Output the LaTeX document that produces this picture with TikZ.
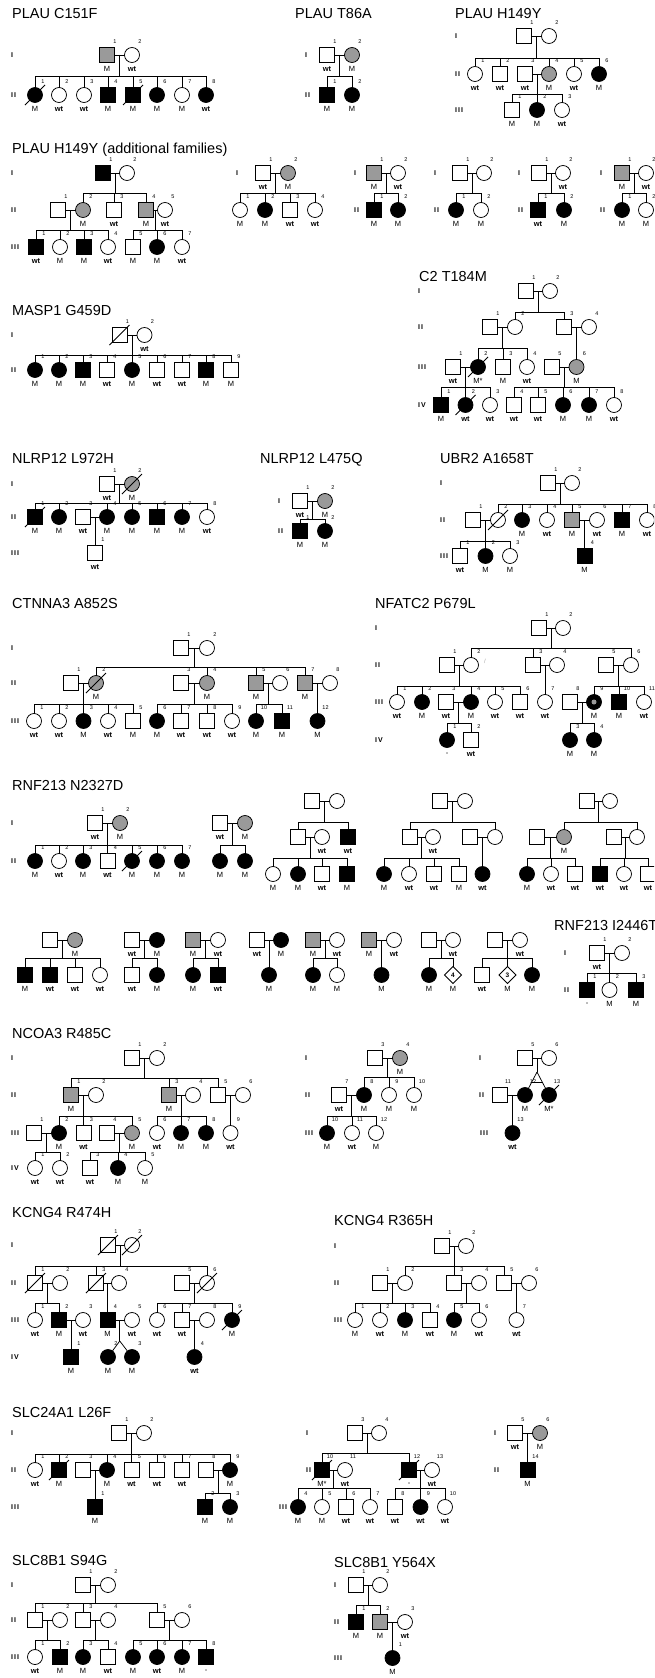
\documentclass[tikz,border=0pt]{standalone}
\usepackage{fontspec}
\setmainfont{Liberation Sans}
\usetikzlibrary{calc,shapes.geometric}
\definecolor{cgray}{HTML}{9A9A9A}
\tikzset{
 ln/.style={line width=0.75pt, draw=black},
 sym/.style={draw=black, line width=0.75pt, inner sep=0pt, outer sep=0pt},
 sq/.style={rectangle, minimum size=15pt},
 ci/.style={circle, minimum size=15pt},
 dm/.style={diamond, minimum size=17pt, font=\fontsize{6.5}{7}\selectfont\bfseries},
 pU/.style={fill=white}, pA/.style={fill=black}, pC/.style={fill=cgray},
 num/.style={font=\fontsize{5.5}{6}\selectfont, inner sep=0pt},
 gt/.style={font=\fontsize{7.5}{8}\selectfont, inner sep=0pt},
 gen/.style={font=\fontsize{7}{8}\selectfont\bfseries\addfontfeatures{LetterSpace=14}, inner sep=0pt, anchor=west},
 ttl/.style={font=\fontsize{14.5}{16}\selectfont, inner sep=0pt, anchor=base west},
}
\newcommand{\WT}{\textbf{wt}}
\newcommand{\Nm}[3]{\if\relax\detokenize{#3}\relax\else\node[num] at (#1+8,#2-13) {#3};\fi}
\newcommand{\Gt}[3]{\if\relax\detokenize{#3}\relax\else\node[gt] at (#1,#2+14) {#3};\fi}
\newcommand{\Sq}[6]{\node[sym,sq,#4] (#1) at (#2,#3) {};\Nm{#2}{#3}{#5}\Gt{#2}{#3}{#6}}
\newcommand{\Ci}[6]{\node[sym,ci,#4] (#1) at (#2,#3) {};\Nm{#2}{#3}{#5}\Gt{#2}{#3}{#6}}
\newcommand{\Dm}[5]{\node[sym,dm,pU] (#1) at (#2,#3) {#4};\Gt{#2}{#3}{#5}}
\newcommand{\mar}[2]{\draw[ln] (#1) -- (#2); \coordinate (m#1) at ($(#1)!0.5!(#2)$);}
\newcommand{\sibs}[5]{%
  \coordinate (sibY) at (0,#2);
  \draw[ln] (#1) -- (#1 |- sibY);
  \draw[ln] (#3 |- sibY) -- (#4 |- sibY);
  \foreach \ch in {#5} {\draw[ln] (\ch) -- (\ch |- sibY);}}
\newcommand{\dec}[1]{\draw[ln] ($(#1)+(-10,10)$) -- ($(#1)+(10,-10)$);}
\newcommand{\gl}[3]{\node[gen] at (#1,#2) {#3};}
\begin{document}
\begin{tikzpicture}[x=1pt,y=-1pt]
\useasboundingbox (0,0) rectangle (654,1678);
\fill[white] (0,0) rectangle (654,1678);
\clip (0,0) rectangle (654,1678);

% ================= PLAU C151F
\node[ttl] at (12,19) {PLAU C151F};
\gl{11}{55}{I}\gl{11}{95}{II}
\Sq{a1}{107}{55}{pC}{1}{M}
\Ci{a2}{132}{55}{pU}{2}{\WT}
\mar{a1}{a2}
\Ci{a21}{35}{95}{pA}{1}{M}
\Ci{a22}{59}{95}{pU}{2}{\WT}
\Ci{a23}{84}{95}{pU}{3}{\WT}
\Sq{a24}{108}{95}{pA}{4}{M}
\Sq{a25}{133}{95}{pA}{5}{M}
\Ci{a26}{157}{95}{pA}{6}{M}
\Ci{a27}{182}{95}{pU}{7}{M}
\Ci{a28}{206}{95}{pA}{8}{\WT}
\sibs{ma1}{76}{a21}{a28}{a21,a22,a23,a24,a25,a26,a27,a28}
\dec{a21}\dec{a25}

% ================= PLAU T86A
\node[ttl] at (295,19) {PLAU T86A};
\gl{305}{55}{I}\gl{305}{95}{II}
\Sq{b1}{327}{55}{pU}{1}{\WT}
\Ci{b2}{352}{55}{pC}{2}{M}
\mar{b1}{b2}
\Sq{b21}{327}{95}{pA}{1}{M}
\Ci{b22}{352}{95}{pA}{2}{M}
\sibs{mb1}{76}{b21}{b22}{b21,b22}

% ================= PLAU H149Y
\node[ttl] at (455,19) {PLAU H149Y};
\gl{455}{36}{I}\gl{455}{74}{II}\gl{455}{110}{III}
\Sq{c1}{524}{36}{pU}{1}{}
\Ci{c2}{549}{36}{pU}{2}{}
\mar{c1}{c2}
\Ci{c21}{475}{74}{pU}{1}{\WT}
\Sq{c22}{500}{74}{pU}{2}{\WT}
\Sq{c23}{525}{74}{pU}{3}{\WT}
\Ci{c24}{549}{74}{pC}{4}{M}
\Ci{c25}{574}{74}{pU}{5}{\WT}
\Ci{c26}{599}{74}{pA}{6}{M}
\sibs{mc1}{58}{c21}{c26}{c21,c22,c24,c25,c26}
\mar{c23}{c24}
\Sq{c31}{512}{110}{pU}{1}{M}
\Ci{c32}{537}{110}{pA}{2}{M}
\Ci{c33}{562}{110}{pU}{3}{\WT}
\sibs{mc23}{94}{c31}{c33}{c31,c32,c33}

% ================= PLAU H149Y additional
\node[ttl] at (12,153) {PLAU H149Y (additional families)};
\gl{11}{173}{I}\gl{11}{210}{II}\gl{11}{247}{III}
\Sq{d1}{103}{173}{pA}{1}{}
\Ci{d2}{127}{173}{pU}{2}{}
\mar{d1}{d2}
\Sq{d21}{58}{210}{pU}{1}{}
\Ci{d22}{83}{210}{pC}{2}{M}
\Sq{d23}{114}{210}{pU}{3}{\WT}
\Sq{d24}{146}{210}{pC}{4}{M}
\Ci{d25}{165}{210}{pU}{5}{\WT}
\sibs{md1}{193}{d22}{d24}{d22,d23,d24}
\mar{d21}{d22}
\Sq{d31}{36}{247}{pA}{1}{\WT}
\Ci{d32}{60}{247}{pU}{2}{M}
\Sq{d33}{84}{247}{pA}{3}{M}
\Ci{d34}{108}{247}{pU}{4}{\WT}
\sibs{md21}{230}{d31}{d34}{d31,d32,d33,d34}
\mar{d24}{d25}
\Sq{d35}{133}{247}{pU}{5}{M}
\Ci{d36}{157}{247}{pA}{6}{M}
\Ci{d37}{182}{247}{pU}{7}{\WT}
\sibs{md24}{230}{d35}{d37}{d35,d36,d37}

\gl{236}{173}{I}\gl{236}{210}{II}
\Sq{e1}{263}{173}{pU}{1}{\WT}
\Ci{e2}{288}{173}{pC}{2}{M}
\mar{e1}{e2}
\Ci{e21}{240}{210}{pU}{1}{M}
\Ci{e22}{265}{210}{pA}{2}{M}
\Sq{e23}{290}{210}{pU}{3}{\WT}
\Ci{e24}{315}{210}{pU}{4}{\WT}
\sibs{me1}{193}{e21}{e24}{e21,e22,e23,e24}

\gl{354}{173}{I}\gl{354}{210}{II}
\Sq{f1}{374}{173}{pC}{1}{M}
\Ci{f2}{398}{173}{pU}{2}{\WT}
\mar{f1}{f2}
\Sq{f21}{374}{210}{pA}{1}{M}
\Ci{f22}{398}{210}{pA}{2}{M}
\sibs{mf1}{193}{f21}{f22}{f21,f22}

\gl{434}{173}{I}\gl{434}{210}{II}
\Sq{g1}{460}{173}{pU}{1}{}
\Ci{g2}{484}{173}{pU}{2}{}
\mar{g1}{g2}
\Ci{g21}{456}{210}{pA}{1}{M}
\Ci{g22}{481}{210}{pU}{2}{M}
\sibs{mg1}{193}{g21}{g22}{g21,g22}

\gl{518}{173}{I}\gl{518}{210}{II}
\Sq{h1}{539}{173}{pU}{1}{}
\Ci{h2}{563}{173}{pU}{2}{\WT}
\mar{h1}{h2}
\Sq{h21}{538}{210}{pA}{1}{\WT}
\Ci{h22}{564}{210}{pA}{2}{M}
\sibs{mh1}{193}{h21}{h22}{h21,h22}

\gl{600}{173}{I}\gl{600}{210}{II}
\Sq{i1}{622}{173}{pC}{1}{M}
\Ci{i2}{646}{173}{pU}{2}{\WT}
\mar{i1}{i2}
\Ci{i21}{622}{210}{pA}{1}{M}
\Ci{i22}{646}{210}{pU}{2}{M}
\sibs{mi1}{193}{i21}{i22}{i21,i22}

% ================= C2 T184M
\node[ttl] at (419,281) {C2 T184M};
\gl{418}{291}{I}\gl{418}{327}{II}\gl{418}{367}{III}\gl{418}{405}{IV}
\Sq{j1}{526}{291}{pU}{1}{}
\Ci{j2}{550}{291}{pU}{2}{}
\mar{j1}{j2}
\Sq{j21}{490}{327}{pU}{1}{}
\Ci{j22}{515}{327}{pU}{2}{}
\Sq{j23}{564}{327}{pU}{3}{}
\Ci{j24}{589}{327}{pU}{4}{}
\sibs{mj1}{312}{j22}{j23}{j22,j23}
\mar{j21}{j22}
\Sq{j31}{453}{367}{pU}{1}{\WT}
\Ci{j32}{478}{367}{pA}{2}{M*}
\Sq{j33}{503}{367}{pU}{3}{M}
\Ci{j34}{527}{367}{pU}{4}{\WT}
\sibs{mj21}{348}{j32}{j34}{j32,j33,j34}
\mar{j23}{j24}
\Sq{j35}{552}{367}{pU}{5}{}
\Ci{j36}{576.5}{367}{pC}{6}{M}
\draw[ln] (mj23) -- (j36);
\mar{j31}{j32}
\Sq{j41}{441}{405}{pA}{1}{M}
\Ci{j42}{465.5}{405}{pA}{2}{\WT}
\Ci{j43}{490}{405}{pU}{3}{\WT}
\sibs{mj31}{387}{j41}{j43}{j41,j42,j43}
\mar{j35}{j36}
\Sq{j44}{514}{405}{pU}{4}{\WT}
\Sq{j45}{538}{405}{pU}{5}{\WT}
\Ci{j46}{563}{405}{pA}{6}{M}
\Ci{j47}{589}{405}{pA}{7}{M}
\Ci{j48}{614}{405}{pU}{8}{\WT}
\sibs{mj35}{387}{j44}{j48}{j44,j45,j46,j47,j48}
\dec{j32}\dec{j42}

% ================= MASP1 G459D
\node[ttl] at (12,315) {MASP1 G459D};
\gl{11}{335}{I}\gl{11}{370}{II}
\Sq{k1}{119.5}{335}{pU}{1}{}
\Ci{k2}{144.5}{335}{pU}{2}{\WT}
\mar{k1}{k2}
\dec{k1}
\Ci{k21}{35}{370}{pA}{1}{M}
\Ci{k22}{59}{370}{pA}{2}{M}
\Sq{k23}{83}{370}{pA}{3}{M}
\Sq{k24}{107}{370}{pU}{4}{\WT}
\Ci{k25}{132}{370}{pA}{5}{M}
\Sq{k26}{157}{370}{pU}{6}{\WT}
\Sq{k27}{182}{370}{pU}{7}{\WT}
\Sq{k28}{206}{370}{pA}{8}{M}
\Sq{k29}{231}{370}{pU}{9}{M}
\sibs{mk1}{355}{k21}{k29}{k21,k22,k23,k24,k25,k26,k27,k28,k29}

% ================= NLRP12 L972H
\node[ttl] at (12,463) {NLRP12 L972H};
\gl{11}{484}{I}\gl{11}{517}{II}\gl{11}{553}{III}
\Sq{l1}{107}{484}{pU}{1}{\WT}
\Ci{l2}{132}{484}{pC}{2}{M}
\mar{l1}{l2}
\dec{l2}
\Sq{l21}{35}{517}{pA}{1}{M}
\Ci{l22}{59}{517}{pA}{2}{M}
\Sq{l23}{83}{517}{pU}{3}{\WT}
\Ci{l24}{107}{517}{pA}{4}{M}
\Ci{l25}{132}{517}{pA}{5}{M}
\Sq{l26}{157}{517}{pA}{6}{M}
\Ci{l27}{182}{517}{pA}{7}{M}
\Ci{l28}{207}{517}{pU}{8}{\WT}
\sibs{ml1}{503}{l21}{l28}{l21,l22,l24,l25,l26,l27,l28}
\dec{l21}
\mar{l23}{l24}
\Sq{l31}{95}{553}{pU}{1}{\WT}
\draw[ln] (ml23) -- (l31);

% ================= NLRP12 L475Q
\node[ttl] at (260,463) {NLRP12 L475Q};
\gl{278}{501}{I}\gl{278}{531}{II}
\Sq{m1}{300}{501}{pU}{1}{\WT}
\Ci{m2}{325}{501}{pC}{2}{M}
\mar{m1}{m2}
\Sq{m21}{300}{531}{pA}{1}{M}
\Ci{m22}{325}{531}{pA}{2}{M}
\sibs{mm1}{519}{m21}{m22}{m21,m22}

% ================= UBR2 A1658T
\node[ttl] at (440,463) {UBR2 A1658T};
\gl{440}{483}{I}\gl{440}{520}{II}\gl{440}{556}{III}
\Sq{n1}{548}{483}{pU}{1}{}
\Ci{n2}{572}{483}{pU}{2}{}
\mar{n1}{n2}
\Sq{n21}{473}{520}{pU}{1}{}
\Ci{n22}{498}{520}{pU}{2}{}
\Ci{n23}{522}{520}{pA}{3}{M}
\Ci{n24}{547}{520}{pU}{4}{\WT}
\Sq{n25}{572}{520}{pC}{5}{M}
\Ci{n26}{597}{520}{pU}{6}{\WT}
\Sq{n27}{622}{520}{pA}{7}{M}
\Ci{n28}{647}{520}{pU}{8}{\WT}
\sibs{mn1}{504}{n22}{n28}{n22,n23,n24,n25,n27,n28}
\dec{n22}
\mar{n21}{n22}
\Sq{n31}{460}{556}{pU}{1}{\WT}
\Ci{n32}{485.5}{556}{pA}{2}{M}
\Ci{n33}{510}{556}{pU}{3}{M}
\sibs{mn21}{541}{n31}{n33}{n31,n32,n33}
\mar{n25}{n26}
\Sq{n34}{584.5}{556}{pA}{4}{M}
\draw[ln] (mn25) -- (n34);

% ================= CTNNA3 A852S
\node[ttl] at (12,608) {CTNNA3 A852S};
\gl{11}{648}{I}\gl{11}{683}{II}\gl{11}{721}{III}
\Sq{o1}{181}{648}{pU}{1}{}
\Ci{o2}{207}{648}{pU}{2}{}
\mar{o1}{o2}
\Sq{o21}{71}{683}{pU}{1}{}
\Ci{o22}{96}{683}{pC}{2}{M}
\Sq{o23}{181}{683}{pU}{3}{}
\Ci{o24}{207}{683}{pC}{4}{M}
\Sq{o25}{256}{683}{pC}{5}{M}
\Ci{o26}{280}{683}{pU}{6}{}
\Sq{o27}{305}{683}{pC}{7}{M}
\Ci{o28}{330}{683}{pU}{8}{}
\sibs{mo1}{667}{o22}{o27}{o22,o24,o25,o27}
\dec{o22}
\mar{o21}{o22}
\Ci{o31}{34}{721}{pU}{1}{\WT}
\Ci{o32}{59}{721}{pU}{2}{\WT}
\Ci{o33}{83.5}{721}{pA}{3}{M}
\Ci{o34}{108}{721}{pU}{4}{\WT}
\Sq{o35}{133}{721}{pU}{5}{M}
\sibs{mo21}{704}{o31}{o35}{o31,o32,o33,o34,o35}
\mar{o23}{o24}
\Ci{o36}{157}{721}{pA}{6}{M}
\Sq{o37}{181}{721}{pU}{7}{\WT}
\Sq{o38}{207}{721}{pU}{8}{\WT}
\Ci{o39}{232}{721}{pU}{9}{\WT}
\sibs{mo23}{704}{o36}{o39}{o36,o37,o38,o39}
\mar{o25}{o26}
\Ci{o310}{256}{721}{pA}{10}{M}
\Sq{o311}{282}{721}{pA}{11}{M}
\sibs{mo25}{704}{o310}{o311}{o310,o311}
\mar{o27}{o28}
\Ci{o312}{317.5}{721}{pA}{12}{M}
\draw[ln] (mo27) -- (o312);

% ================= NFATC2 P679L
\node[ttl] at (375,608) {NFATC2 P679L};
\gl{375}{628}{I}\gl{375}{665}{II}\gl{375}{702}{III}\gl{375}{740}{IV}
\Sq{p1}{539}{628}{pU}{1}{}
\Ci{p2}{563}{628}{pU}{2}{}
\mar{p1}{p2}
\Sq{p21}{447}{665}{pU}{1}{}
\Ci{p22}{471}{665}{pU}{2}{}
\Sq{p23}{533}{665}{pU}{3}{}
\Ci{p24}{557}{665}{pU}{4}{}
\Sq{p25}{606}{665}{pU}{5}{}
\Ci{p26}{631}{665}{pU}{6}{}
\sibs{mp1}{648}{p22}{p26}{p22,p23,p26}
\node[text=black!35, font=\fontsize{6}{7}\selectfont, inner sep=0pt] at (485,661) {/};
\mar{p21}{p22}
\Ci{p31}{397}{702}{pU}{1}{\WT}
\Ci{p32}{422}{702}{pA}{2}{M}
\Sq{p33}{446}{702}{pU}{3}{\WT}
\Ci{p34}{471}{702}{pA}{4}{M}
\Ci{p35}{495}{702}{pU}{5}{\WT}
\Sq{p36}{520}{702}{pU}{6}{\WT}
\sibs{mp21}{686}{p31}{p36}{p31,p32,p34,p35,p36}
\mar{p23}{p24}
\Ci{p37}{545}{702}{pU}{7}{\WT}
\draw[ln] (mp23) -- (p37);
\Sq{p38}{570}{702}{pU}{8}{}
\Ci{p39}{594}{702}{pA}{9}{M}
\node[circle, fill=cgray, minimum size=5pt, inner sep=0pt] (p39dot) at (p39) {};
\Sq{p310}{619}{702}{pA}{10}{M}
\Ci{p311}{644}{702}{pU}{11}{\WT}
\mar{p25}{p26}
\sibs{mp25}{686}{p39}{p311}{p39,p310,p311}
\mar{p33}{p34}
\Ci{p41}{447}{740}{pA}{1}{-}
\Sq{p42}{471}{740}{pU}{2}{\WT}
\sibs{mp33}{723}{p41}{p42}{p41,p42}
\mar{p38}{p39}
\Ci{p43}{570}{740}{pA}{3}{M}
\Ci{p44}{594}{740}{pA}{4}{M}
\sibs{mp38}{723}{p43}{p44}{p43,p44}

% ================= RNF213 N2327D
\node[ttl] at (12,790) {RNF213 N2327D};
\gl{11}{823}{I}\gl{11}{861}{II}
\Sq{q1}{95}{823}{pU}{1}{\WT}
\Ci{q2}{120}{823}{pC}{2}{M}
\mar{q1}{q2}
\Ci{q21}{35}{861}{pA}{1}{M}
\Ci{q22}{59}{861}{pU}{2}{\WT}
\Ci{q23}{83}{861}{pA}{3}{M}
\Sq{q24}{107.5}{861}{pU}{4}{\WT}
\Ci{q25}{132}{861}{pA}{5}{M}
\Ci{q26}{157}{861}{pA}{6}{M}
\Ci{q27}{182}{861}{pA}{7}{M}
\sibs{mq1}{845}{q21}{q27}{q21,q22,q23,q24,q25,q26,q27}
\dec{q25}

\Sq{r1}{220}{823}{pU}{}{\WT}
\Ci{r2}{245}{823}{pC}{}{M}
\mar{r1}{r2}
\Ci{r21}{220}{861}{pA}{}{M}
\Ci{r22}{245}{861}{pA}{}{M}
\sibs{mr1}{845}{r21}{r22}{r21,r22}

\Sq{s1}{312}{801}{pU}{}{}
\Ci{s2}{337}{801}{pU}{}{}
\mar{s1}{s2}
\Sq{s21}{298}{837}{pU}{}{}
\Ci{s22}{322}{837}{pU}{}{\WT}
\Sq{s23}{348}{837}{pA}{}{\WT}
\sibs{ms1}{822}{s21}{s23}{s21,s23}
\mar{s21}{s22}
\Ci{s31}{273}{874}{pU}{}{M}
\Ci{s32}{298}{874}{pA}{}{M}
\Sq{s33}{322}{874}{pU}{}{\WT}
\Sq{s34}{347}{874}{pA}{}{M}
\sibs{ms21}{858}{s31}{s34}{s31,s32,s33,s34}

\Sq{t1}{440}{801}{pU}{}{}
\Ci{t2}{465}{801}{pU}{}{}
\mar{t1}{t2}
\Sq{t21}{410}{837}{pU}{}{}
\Ci{t22}{433}{837}{pU}{}{\WT}
\Sq{t23}{470}{837}{pU}{}{}
\Ci{t24}{495}{837}{pU}{}{}
\sibs{mt1}{822}{t21}{t24}{t21,t24}
\mar{t21}{t22}
\Ci{t31}{384}{874}{pA}{}{M}
\Ci{t32}{409}{874}{pU}{}{\WT}
\Sq{t33}{434}{874}{pU}{}{\WT}
\Sq{t34}{459}{874}{pU}{}{M}
\sibs{mt21}{858}{t31}{t34}{t31,t32,t33,t34}
\mar{t23}{t24}
\Ci{t35}{482.5}{874}{pA}{}{\WT}
\draw[ln] (mt23) -- (t35);

\Sq{u1}{587}{801}{pU}{}{}
\Ci{u2}{610}{801}{pU}{}{}
\mar{u1}{u2}
\Sq{u21}{537}{837}{pU}{}{}
\Ci{u22}{564}{837}{pC}{}{M}
\Sq{u23}{614}{837}{pU}{}{}
\Ci{u24}{637}{837}{pU}{}{}
\sibs{mu1}{822}{u22}{u24}{u22,u24}
\mar{u21}{u22}
\Ci{u31}{527}{874}{pA}{}{M}
\Ci{u32}{551}{874}{pU}{}{\WT}
\Sq{u33}{575}{874}{pU}{}{\WT}
\sibs{mu21}{858}{u31}{u33}{u31,u32,u33}
\mar{u23}{u24}
\Sq{u34}{600}{874}{pA}{}{\WT}
\Ci{u35}{624}{874}{pU}{}{\WT}
\Sq{u36}{648}{874}{pU}{}{\WT}
\sibs{mu23}{858}{u34}{u36}{u34,u35,u36}

% second row of RNF213 N2327D families
\Sq{v1}{50}{940}{pU}{}{}
\Ci{v2}{75}{940}{pC}{}{M}
\mar{v1}{v2}
\Sq{v21}{25}{975}{pA}{}{M}
\Sq{v22}{50}{975}{pA}{}{\WT}
\Sq{v23}{75}{975}{pU}{}{\WT}
\Ci{v24}{100}{975}{pU}{}{\WT}
\sibs{mv1}{958}{v21}{v24}{v21,v22,v23,v24}

\Sq{w1}{132}{940}{pU}{}{\WT}
\Ci{w2}{157}{940}{pA}{}{M}
\mar{w1}{w2}
\Sq{w21}{132}{975}{pU}{}{\WT}
\Ci{w22}{157}{975}{pA}{}{M}
\sibs{mw1}{958}{w21}{w22}{w21,w22}

\Sq{x1}{193}{940}{pC}{}{M}
\Ci{x2}{218}{940}{pU}{}{\WT}
\mar{x1}{x2}
\Ci{x21}{193}{975}{pA}{}{M}
\Sq{x22}{218}{975}{pA}{}{\WT}
\sibs{mx1}{958}{x21}{x22}{x21,x22}

\Sq{y1}{257}{940}{pU}{}{\WT}
\Ci{y2}{281}{940}{pA}{}{M}
\mar{y1}{y2}
\Ci{y21}{269}{975}{pA}{}{M}
\draw[ln] (my1) -- (y21);

\Sq{z1}{313}{940}{pC}{}{M}
\Ci{z2}{337}{940}{pU}{}{\WT}
\mar{z1}{z2}
\Ci{z21}{313}{975}{pA}{}{M}
\Ci{z22}{337}{975}{pU}{}{M}
\sibs{mz1}{958}{z21}{z22}{z21,z22}

\Sq{aa1}{369}{940}{pC}{}{M}
\Ci{aa2}{394}{940}{pU}{}{\WT}
\mar{aa1}{aa2}
\Ci{aa21}{381.5}{975}{pA}{}{M}
\draw[ln] (maa1) -- (aa21);

\Sq{ab1}{429}{940}{pU}{}{}
\Ci{ab2}{453}{940}{pU}{}{\WT}
\mar{ab1}{ab2}
\Ci{ab21}{429}{975}{pA}{}{M}
\Dm{ab22}{453}{975}{4}{M}
\sibs{mab1}{958}{ab21}{ab22}{ab21,ab22}

\Sq{ac1}{495}{940}{pU}{}{}
\Ci{ac2}{520}{940}{pU}{}{\WT}
\mar{ac1}{ac2}
\Sq{ac21}{482}{975}{pU}{}{\WT}
\Dm{ac22}{507.5}{975}{3}{M}
\Ci{ac23}{532}{975}{pA}{}{M}
\sibs{mac1}{958}{ac21}{ac23}{ac21,ac22,ac23}

% ================= RNF213 I2446T
\node[ttl] at (554,930) {RNF213 I2446T};
\gl{564}{953}{I}\gl{564}{990}{II}
\Sq{ad1}{597}{953}{pU}{1}{\WT}
\Ci{ad2}{622}{953}{pU}{2}{}
\mar{ad1}{ad2}
\Sq{ad21}{587}{990}{pA}{1}{-}
\Ci{ad22}{609.5}{990}{pU}{2}{M}
\Sq{ad23}{636}{990}{pA}{3}{M}
\sibs{mad1}{973}{ad21}{ad23}{ad21,ad22,ad23}

% ================= NCOA3 R485C
\node[ttl] at (12,1038) {NCOA3 R485C};
\gl{11}{1058}{I}\gl{11}{1095}{II}\gl{11}{1133}{III}\gl{11}{1168}{IV}
\Sq{ae1}{132}{1058}{pU}{1}{}
\Ci{ae2}{157}{1058}{pU}{2}{}
\mar{ae1}{ae2}
\Sq{ae21}{71}{1095}{pC}{1}{M}
\Ci{ae22}{96}{1095}{pU}{2}{}
\Sq{ae23}{169}{1095}{pC}{3}{M}
\Ci{ae24}{193}{1095}{pU}{4}{}
\Sq{ae25}{218}{1095}{pU}{5}{}
\Ci{ae26}{243}{1095}{pU}{6}{}
\sibs{mae1}{1078}{ae21}{ae25}{ae21,ae23,ae25}
\mar{ae21}{ae22}
\Sq{ae31}{34}{1133}{pU}{1}{}
\Ci{ae32}{59}{1133}{pA}{2}{M}
\Sq{ae33}{83.5}{1133}{pU}{3}{\WT}
\Sq{ae34}{107}{1133}{pU}{4}{}
\Ci{ae35}{132}{1133}{pC}{5}{M}
\sibs{mae21}{1116}{ae32}{ae35}{ae32,ae33,ae35}
\mar{ae23}{ae24}
\Ci{ae36}{157}{1133}{pU}{6}{\WT}
\Ci{ae37}{181}{1133}{pA}{7}{M}
\Ci{ae38}{206}{1133}{pA}{8}{M}
\sibs{mae23}{1116}{ae36}{ae38}{ae36,ae37,ae38}
\mar{ae25}{ae26}
\Ci{ae39}{230.5}{1133}{pU}{9}{\WT}
\draw[ln] (mae25) -- (ae39);
\mar{ae31}{ae32}
\Ci{ae41}{35}{1168}{pU}{1}{\WT}
\Ci{ae42}{60}{1168}{pU}{2}{\WT}
\sibs{mae31}{1152}{ae41}{ae42}{ae41,ae42}
\mar{ae34}{ae35}
\Sq{ae43}{90}{1168}{pU}{3}{\WT}
\Ci{ae44}{118}{1168}{pA}{4}{M}
\Ci{ae45}{145}{1168}{pU}{5}{M}
\sibs{mae34}{1152}{ae43}{ae45}{ae43,ae44,ae45}

\gl{305}{1058}{I}\gl{305}{1095}{II}\gl{305}{1133}{III}
\Sq{af3}{375}{1058}{pU}{3}{}
\Ci{af4}{400}{1058}{pC}{4}{M}
\mar{af3}{af4}
\Sq{af7}{339}{1095}{pU}{7}{\WT}
\Ci{af8}{364}{1095}{pA}{8}{M}
\Ci{af9}{389}{1095}{pU}{9}{M}
\Ci{af10}{414}{1095}{pU}{10}{M}
\sibs{maf3}{1077}{af8}{af10}{af8,af9,af10}
\mar{af7}{af8}
\Ci{af310}{327}{1133}{pA}{10}{M}
\Ci{af311}{352}{1133}{pU}{11}{\WT}
\Ci{af312}{376}{1133}{pU}{12}{M}
\sibs{maf7}{1116}{af310}{af312}{af310,af311,af312}

\gl{479}{1058}{I}\gl{479}{1095}{II}\gl{480}{1133}{III}
\Sq{ag5}{525}{1058}{pU}{5}{}
\Ci{ag6}{549}{1058}{pU}{6}{}
\mar{ag5}{ag6}
\Sq{ag11}{500}{1095}{pU}{11}{}
\Ci{ag12}{525}{1095}{pA}{12}{M}
\Ci{ag13}{549}{1095}{pA}{13}{M*}
\coordinate (agap) at (537,1072);
\draw[ln] (mag5) -- (agap);
\draw[ln] (agap) -- (ag12);
\draw[ln] (agap) -- (ag13);
\draw[ln] ($(agap)!0.45!(ag12)$) -- ($(agap)!0.45!(ag13)$);
\dec{ag13}
\mar{ag11}{ag12}
\Ci{ag313}{512.5}{1133}{pA}{13}{\WT}
\draw[ln] (mag11) -- (ag313);

% ================= KCNG4 R474H
\node[ttl] at (12,1217) {KCNG4 R474H};
\gl{11}{1245}{I}\gl{11}{1283}{II}\gl{11}{1320}{III}\gl{11}{1357}{IV}
\Sq{ah1}{108}{1245}{pU}{1}{}
\Ci{ah2}{132}{1245}{pU}{2}{}
\mar{ah1}{ah2}
\dec{ah1}\dec{ah2}
\Sq{ah21}{35}{1283}{pU}{1}{}
\Ci{ah22}{60}{1283}{pU}{2}{}
\Sq{ah23}{96}{1283}{pU}{3}{}
\Ci{ah24}{119}{1283}{pU}{4}{}
\Sq{ah25}{182}{1283}{pU}{5}{}
\Ci{ah26}{207}{1283}{pU}{6}{}
\sibs{mah1}{1266}{ah21}{ah26}{ah21,ah23,ah26}
\dec{ah21}\dec{ah23}\dec{ah26}
\mar{ah21}{ah22}
\Ci{ah31}{35}{1320}{pU}{1}{\WT}
\Sq{ah32}{59}{1320}{pA}{2}{M}
\sibs{mah21}{1303}{ah31}{ah32}{ah31,ah32}
\Ci{ah33}{83}{1320}{pU}{3}{\WT}
\mar{ah23}{ah24}
\Sq{ah34}{107.5}{1320}{pA}{4}{M}
\draw[ln] (mah23) -- (ah34);
\Ci{ah35}{132}{1320}{pU}{5}{\WT}
\mar{ah25}{ah26}
\Ci{ah36}{157}{1320}{pU}{6}{\WT}
\Sq{ah37}{182}{1320}{pU}{7}{\WT}
\Ci{ah38}{207}{1320}{pU}{8}{}
\Ci{ah39}{232}{1320}{pA}{9}{M}
\sibs{mah25}{1303}{ah36}{ah39}{ah36,ah37,ah39}
\dec{ah39}
\mar{ah32}{ah33}
\Sq{ah41}{71}{1357}{pA}{1}{M}
\draw[ln] (mah32) -- (ah41);
\mar{ah34}{ah35}
\Ci{ah42}{108}{1357}{pA}{2}{M}
\Ci{ah43}{132}{1357}{pA}{3}{M}
\coordinate (ahap) at (119.75,1341);
\draw[ln] (mah34) -- (ahap);
\draw[ln] (ahap) -- (ah42);
\draw[ln] (ahap) -- (ah43);
\mar{ah37}{ah38}
\Ci{ah44}{194.5}{1357}{pA}{4}{\WT}
\draw[ln] (mah37) -- (ah44);

% ================= KCNG4 R365H
\node[ttl] at (334,1225) {KCNG4 R365H};
\gl{334}{1246}{I}\gl{334}{1283}{II}\gl{334}{1320}{III}
\Sq{ai1}{442}{1246}{pU}{1}{}
\Ci{ai2}{466}{1246}{pU}{2}{}
\mar{ai1}{ai2}
\Sq{ai21}{380}{1283}{pU}{1}{}
\Ci{ai22}{405}{1283}{pU}{2}{}
\Sq{ai23}{454}{1283}{pU}{3}{}
\Ci{ai24}{479}{1283}{pU}{4}{}
\Sq{ai25}{504}{1283}{pU}{5}{}
\Ci{ai26}{529}{1283}{pU}{6}{}
\sibs{mai1}{1266}{ai22}{ai25}{ai22,ai23,ai25}
\mar{ai21}{ai22}
\Ci{ai31}{355}{1320}{pU}{1}{M}
\Ci{ai32}{380}{1320}{pU}{2}{\WT}
\Ci{ai33}{405}{1320}{pA}{3}{M}
\Sq{ai34}{430}{1320}{pU}{4}{\WT}
\sibs{mai21}{1303}{ai31}{ai34}{ai31,ai32,ai33,ai34}
\mar{ai23}{ai24}
\Ci{ai35}{454}{1320}{pA}{5}{M}
\Ci{ai36}{479}{1320}{pU}{6}{\WT}
\sibs{mai23}{1303}{ai35}{ai36}{ai35,ai36}
\mar{ai25}{ai26}
\Ci{ai37}{516.5}{1320}{pU}{7}{\WT}
\draw[ln] (mai25) -- (ai37);

% ================= SLC24A1 L26F
\node[ttl] at (12,1417) {SLC24A1 L26F};
\gl{11}{1433}{I}\gl{11}{1470}{II}\gl{11}{1507}{III}
\Sq{aj1}{119}{1433}{pU}{1}{}
\Ci{aj2}{144}{1433}{pU}{2}{}
\mar{aj1}{aj2}
\Ci{aj21}{35}{1470}{pU}{1}{\WT}
\Sq{aj22}{59}{1470}{pA}{2}{M}
\Sq{aj23}{83}{1470}{pU}{3}{}
\Ci{aj24}{107}{1470}{pA}{4}{M}
\Sq{aj25}{131.5}{1470}{pU}{5}{\WT}
\Sq{aj26}{157}{1470}{pU}{6}{\WT}
\Sq{aj27}{182}{1470}{pU}{7}{\WT}
\Sq{aj28}{206}{1470}{pU}{8}{}
\Ci{aj29}{230}{1470}{pA}{9}{M}
\sibs{maj1}{1454}{aj21}{aj29}{aj21,aj22,aj24,aj25,aj26,aj27,aj29}
\dec{aj22}
\mar{aj23}{aj24}
\Sq{aj31}{95}{1507}{pA}{1}{M}
\draw[ln] (maj23) -- (aj31);
\mar{aj28}{aj29}
\Sq{aj32}{205}{1507}{pA}{2}{M}
\Ci{aj33}{230}{1507}{pA}{3}{M}
\sibs{maj28}{1493}{aj32}{aj33}{aj32,aj33}

\gl{306}{1433}{I}\gl{306}{1470}{II}\gl{279}{1507}{III}
\Sq{ak3}{355}{1433}{pU}{3}{}
\Ci{ak4}{379}{1433}{pU}{4}{}
\mar{ak3}{ak4}
\Sq{ak10}{322}{1470}{pA}{10}{M*}
\Ci{ak11}{345}{1470}{pU}{11}{\WT}
\Sq{ak12}{409}{1470}{pA}{12}{-}
\Ci{ak13}{432}{1470}{pU}{13}{\WT}
\sibs{mak3}{1453}{ak10}{ak12}{ak10,ak12}
\dec{ak10}\dec{ak12}
\mar{ak10}{ak11}
\Ci{ak34}{298}{1507}{pA}{4}{M}
\Ci{ak35}{322}{1507}{pU}{5}{M}
\Sq{ak36}{346}{1507}{pU}{6}{\WT}
\Ci{ak37}{370}{1507}{pU}{7}{\WT}
\sibs{mak10}{1488}{ak34}{ak37}{ak34,ak35,ak36,ak37}
\mar{ak12}{ak13}
\Sq{ak38}{395}{1507}{pU}{8}{\WT}
\Ci{ak39}{420.5}{1507}{pA}{9}{\WT}
\Ci{ak310}{445}{1507}{pU}{10}{\WT}
\sibs{mak12}{1488}{ak38}{ak310}{ak38,ak39,ak310}

\gl{494}{1433}{I}\gl{494}{1470}{II}
\Sq{al5}{515}{1433}{pU}{5}{\WT}
\Ci{al6}{540}{1433}{pC}{6}{M}
\mar{al5}{al6}
\Sq{al14}{527.5}{1470}{pA}{14}{M}
\draw[ln] (mal5) -- (al14);

% ================= SLC8B1 S94G
\node[ttl] at (12,1565) {SLC8B1 S94G};
\gl{11}{1585}{I}\gl{11}{1620}{II}\gl{11}{1657}{III}
\Sq{sg1}{83}{1585}{pU}{1}{}
\Ci{sg2}{108}{1585}{pU}{2}{}
\mar{sg1}{sg2}
\Sq{sg21}{35}{1620}{pU}{1}{}
\Ci{sg22}{60}{1620}{pU}{2}{}
\Sq{sg23}{83}{1620}{pU}{3}{}
\Ci{sg24}{108}{1620}{pU}{4}{}
\Sq{sg25}{157}{1620}{pU}{5}{}
\Ci{sg26}{182}{1620}{pU}{6}{}
\sibs{msg1}{1603}{sg21}{sg25}{sg21,sg23,sg25}
\mar{sg21}{sg22}
\Ci{sg31}{35}{1657}{pU}{1}{\WT}
\Sq{sg32}{60}{1657}{pA}{2}{M}
\sibs{msg21}{1640}{sg31}{sg32}{sg31,sg32}
\mar{sg23}{sg24}
\Ci{sg33}{83}{1657}{pA}{3}{M}
\Sq{sg34}{108}{1657}{pU}{4}{\WT}
\sibs{msg23}{1640}{sg33}{sg34}{sg33,sg34}
\mar{sg25}{sg26}
\Ci{sg35}{133}{1657}{pA}{5}{M}
\Ci{sg36}{157}{1657}{pA}{6}{\WT}
\Ci{sg37}{182}{1657}{pA}{7}{M}
\Sq{sg38}{206}{1657}{pA}{8}{-}
\sibs{msg25}{1640}{sg35}{sg38}{sg35,sg36,sg37,sg38}

% ================= SLC8B1 Y564X
\node[ttl] at (334,1567) {SLC8B1 Y564X};
\gl{334}{1585}{I}\gl{334}{1622}{II}\gl{334}{1658}{III}
\Sq{sx1}{356}{1585}{pU}{1}{}
\Ci{sx2}{380}{1585}{pU}{2}{}
\mar{sx1}{sx2}
\Sq{sx21}{356}{1622}{pA}{1}{M}
\Sq{sx22}{380}{1622}{pC}{2}{M}
\sibs{msx1}{1605}{sx21}{sx22}{sx21,sx22}
\Ci{sx23}{405}{1622}{pU}{3}{\WT}
\mar{sx22}{sx23}
\Ci{sx31}{392.5}{1658}{pA}{1}{M}
\draw[ln] (msx22) -- (sx31);
\end{tikzpicture}
\end{document}
